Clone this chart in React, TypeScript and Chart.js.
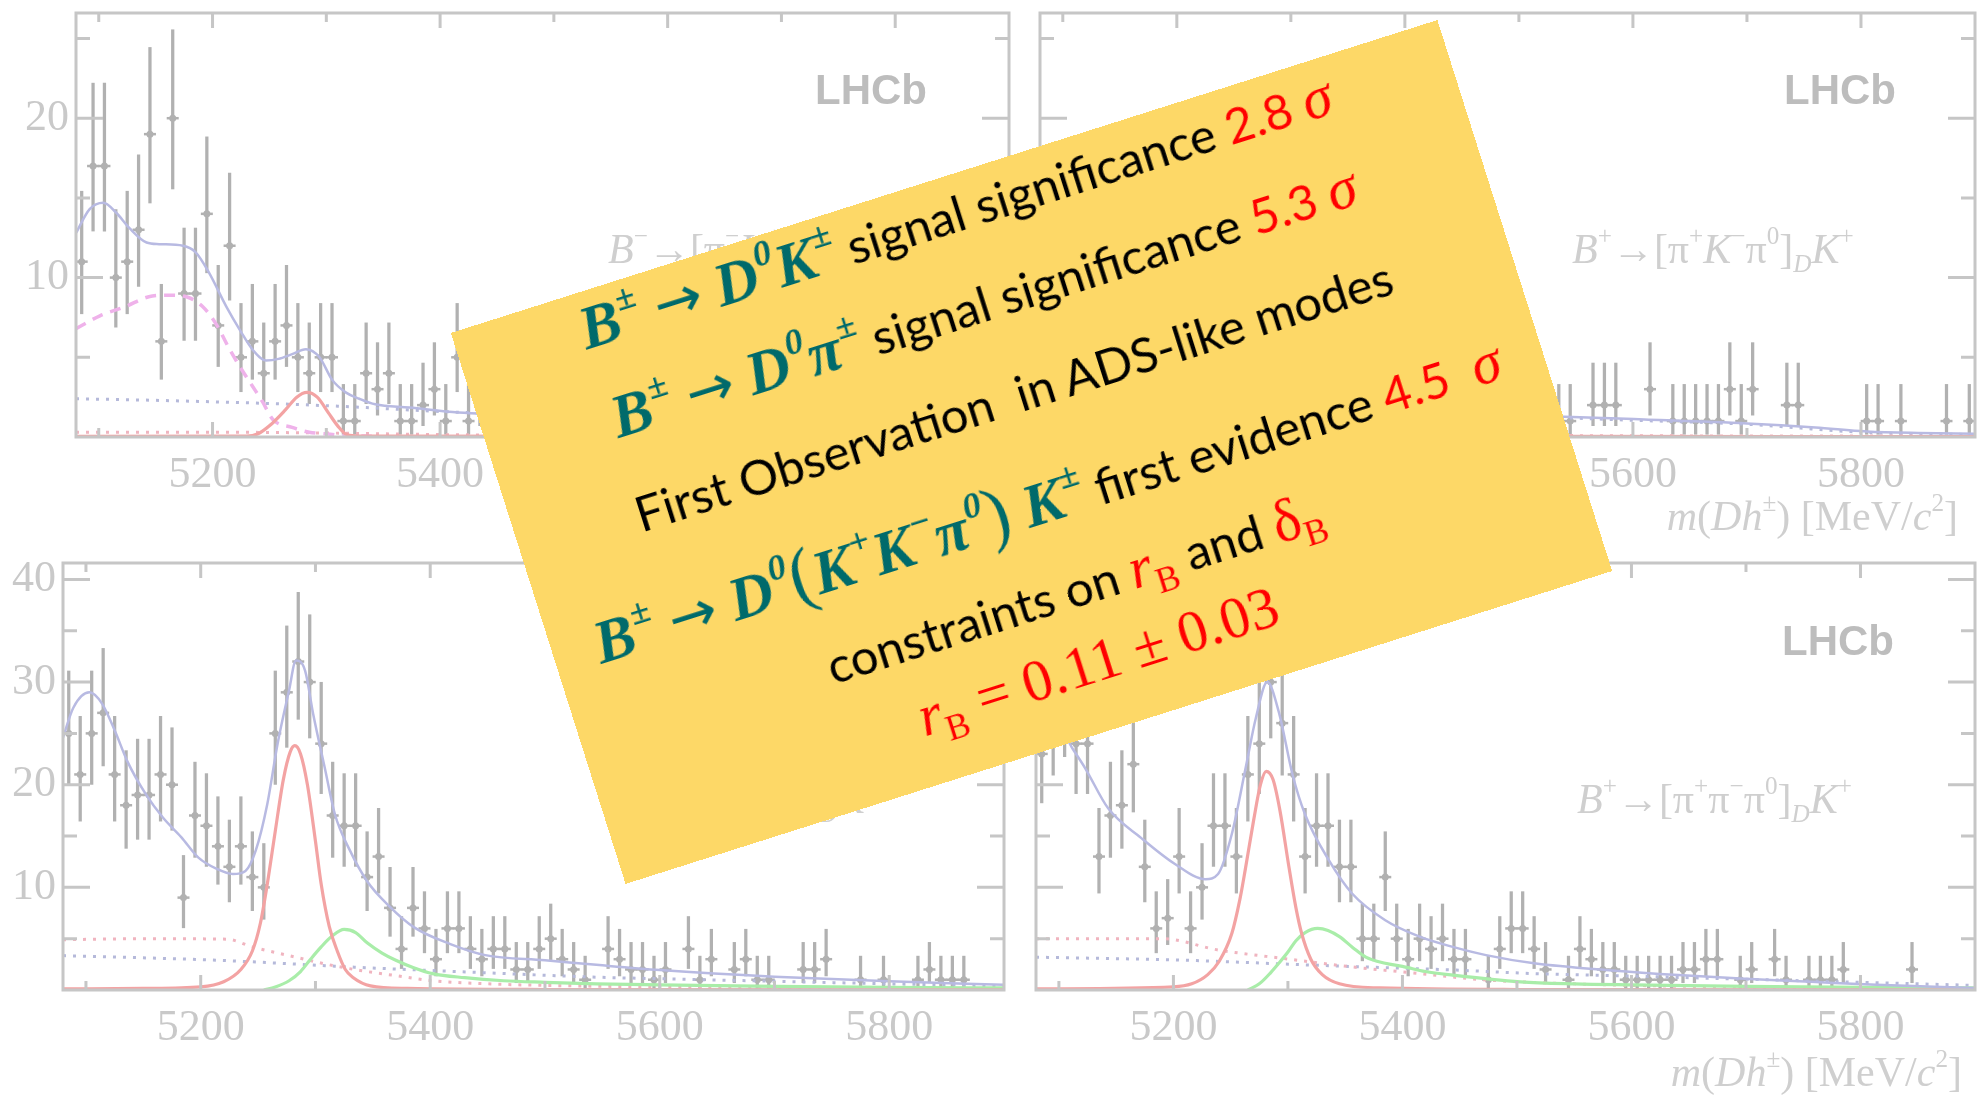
import React, { useEffect, useRef } from 'react';
import { Chart, registerables } from 'chart.js';

Chart.register(...registerables);

// ---------------- data ----------------
const BIN_START = 5085;
const BIN_STEP = 10;
const BIN_CENTRES = Array.from({ length: 82 }, (_, i) => BIN_START + BIN_STEP * i);

const X_MIN = 5080;
const X_MAX = 5900;
const X_TICK_LABELS = [5200, 5400, 5600, 5800];
const X_MINOR_TICKS = [5100, 5300, 5500, 5700];
const Y_TOP_LABELS = [10, 20];
const Y_TOP_MINOR = [5, 15, 25];
const Y_BOTTOM_LABELS = [10, 20, 30, 40];
const Y_BOTTOM_MINOR = [5, 15, 25, 35];

// Poisson (Garwood) error half-lengths, indexed by bin count
const ERR_DOWN = [0, 0.83, 1.29, 1.63, 1.91, 2.16, 2.38, 2.58, 2.77, 2.94, 3.11, 3.27, 3.42, 3.56, 3.70, 3.83, 3.96, 4.08, 4.20, 4.32, 4.44, 4.55, 4.66, 4.77, 4.87, 4.97, 5.07, 5.17, 5.27, 5.36, 5.45, 5.54, 5.63, 5.72, 5.81, 5.90];
const ERR_UP = [1.84, 2.30, 2.64, 2.92, 3.16, 3.38, 3.58, 3.77, 3.95, 4.11, 4.27, 4.42, 4.56, 4.70, 4.83, 4.96, 5.08, 5.20, 5.32, 5.44, 5.55, 5.66, 5.77, 5.87, 5.98, 6.08, 6.18, 6.28, 6.38, 6.47, 6.56, 6.65, 6.74, 6.83, 6.92, 7.01];

// counts per 10 MeV bin, 5085 ... 5895
const TL_COUNTS = [
  11, 17, 17, 10, 11, 13, 19, 6, 20, 9,
  9, 14, 7, 12, 5, 6, 4, 6, 7, 5,
  4, 5, 5, 1, 1, 4, 3, 4, 1, 1,
  2, 3, 1, 5, 1, 2, 0, 1, 3, 1,
  0, 2, 1, 1, 0, 2, 1, 0, 1, 1,
  0, 2, 1, 0, 1, 0, 1, 2, 0, 1,
  0, 1, 0, 1, 0, 1, 0, 1, 0, 0,
  1, 0, 1, 0, 0, 1, 0, 1, 0, 0,
  1, 0,
];
const TR_COUNTS = [
  8, 11, 9, 12, 7, 10, 9, 11, 8, 9,
  6, 8, 5, 6, 4, 3, 4, 2, 3, 4,
  3, 2, 3, 1, 2, 2, 1, 2, 1, 2,
  1, 0, 2, 1, 1, 2, 0, 1, 2, 1,
  0, 1, 1, 0, 1, 1, 1, 0, 2, 2,
  2, 0, 0, 3, 0, 1, 1, 1, 1, 1,
  3, 1, 3, 0, 0, 2, 2, 0, 0, 0,
  0, 0, 1, 1, 0, 1, 0, 0, 0, 1,
  0, 1,
];
const BL_COUNTS = [
  25, 21, 25, 27, 21, 18, 19, 19, 21, 20,
  9, 17, 16, 14, 12, 14, 11, 10, 25, 29,
  32, 30, 24, 17, 16, 16, 11, 13, 8, 4,
  8, 6, 3, 6, 6, 4, 3, 4, 4, 2,
  2, 4, 5, 3, 2, 1, 0, 4, 3, 2,
  2, 1, 2, 0, 4, 1, 3, 0, 2, 3,
  1, 1, 0, 0, 2, 2, 3, 0, 0, 1,
  0, 1, 0, 0, 1, 2, 1, 1, 1, 0,
  0, 0,
];
const BR_COUNTS = [
  23, 26, 28, 24, 24, 13, 17, 18, 22, 12,
  6, 7, 13, 6, 10, 16, 16, 13, 21, 24,
  30, 26, 21, 13, 16, 16, 12, 12, 5, 5,
  11, 5, 3, 5, 4, 5, 3, 3, 0, 1,
  4, 6, 6, 4, 2, 0, 1, 4, 3, 2,
  2, 1, 1, 1, 1, 1, 2, 2, 3, 3,
  0, 1, 2, 0, 3, 1, 0, 1, 1, 1,
  2, 0, 0, 0, 0, 0, 2, 0, 0, 0,
  0, 0,
];

// fit components: [mass, yield]
const TL_TOTAL = [[5080, 12.8], [5092, 14.3], [5104, 14.7], [5115, 14.1], [5127, 13.1], [5142, 12.2], [5153, 12.1], [5174, 12.0], [5185, 11.6], [5197, 10.3], [5212, 8.2], [5225, 6.6], [5235, 5.5], [5247, 4.8], [5258, 4.9], [5270, 5.2], [5282, 5.5], [5294, 5.0], [5305, 3.6], [5317, 2.8], [5329, 2.4], [5343, 2.05], [5373, 1.85], [5416, 1.53], [5500, 1.35], [5600, 1.15], [5700, 0.95], [5800, 0.75], [5900, 0.55]];
const TL_SIGNAL = [[5080, 0.04], [5230, 0.05], [5240, 0.2], [5250, 0.7], [5264, 1.7], [5274, 2.5], [5283, 2.8], [5292, 2.5], [5302, 1.5], [5310, 0.7], [5318, 0.15], [5330, 0.05], [5900, 0.02]];
const TL_DSTAR = [[5080, 6.8], [5101, 7.6], [5124, 8.2], [5144, 8.8], [5162, 8.9], [5177, 8.8], [5191, 8.2], [5203, 7.1], [5215, 5.5], [5225, 4.3], [5235, 3.2], [5244, 2.2], [5253, 1.1], [5270, 0.6], [5285, 0.3], [5299, 0.2], [5314, 0.1], [5340, 0.05]];
const TL_PINKDOT = [[5080, 0.3], [5200, 0.3], [5300, 0.25], [5400, 0.15], [5500, 0.1], [5900, 0.05]];
const TL_COMB = [[5080, 2.4], [5150, 2.3], [5250, 2.1], [5320, 1.9], [5400, 1.6], [5500, 1.35], [5600, 1.15], [5700, 0.9], [5800, 0.7], [5900, 0.5]];

const TR_TOTAL = [[5080, 9.5], [5095, 10.5], [5110, 10.3], [5130, 9.5], [5160, 8.8], [5185, 8.2], [5200, 7.2], [5215, 5.6], [5230, 4.2], [5245, 3.4], [5260, 3.2], [5275, 3.5], [5285, 3.7], [5295, 3.4], [5310, 2.6], [5330, 2.0], [5360, 1.7], [5400, 1.55], [5450, 1.42], [5500, 1.33], [5540, 1.27], [5610, 1.1], [5700, 0.85], [5760, 0.6], [5805, 0.35], [5850, 0.25], [5900, 0.2]];
const TR_SIGNAL = [[5080, 0.03], [5230, 0.05], [5250, 0.4], [5265, 1.0], [5275, 1.5], [5283, 1.7], [5292, 1.5], [5302, 0.9], [5315, 0.3], [5330, 0.05], [5900, 0.02]];
const TR_DSTAR = [[5080, 5.0], [5120, 5.8], [5160, 6.4], [5185, 6.2], [5205, 5.0], [5225, 3.2], [5245, 1.6], [5265, 0.6], [5290, 0.2], [5320, 0.05]];
const TR_PINKDOT = [[5080, 0.25], [5300, 0.2], [5500, 0.1], [5900, 0.05]];
const TR_COMB = [[5080, 2.0], [5200, 1.9], [5300, 1.7], [5400, 1.5], [5500, 1.3], [5600, 1.05], [5700, 0.8], [5800, 0.3], [5900, 0.15]];

const BL_TOTAL = [[5080, 24.6], [5089, 27.5], [5103, 29.0], [5114, 27.9], [5125, 25.3], [5136, 22.3], [5152, 19.1], [5167, 16.8], [5183, 14.9], [5198, 12.9], [5214, 11.8], [5228, 11.3], [5239, 11.6], [5248, 13.6], [5258, 18.1], [5267, 24.0], [5277, 29.2], [5283, 32.1], [5291, 31.1], [5298, 26.9], [5308, 21.7], [5317, 17.1], [5330, 13.6], [5345, 10.6], [5364, 8.2], [5386, 6.1], [5417, 4.5], [5448, 3.4], [5500, 2.9], [5550, 2.4], [5600, 1.95], [5700, 1.3], [5800, 0.85], [5900, 0.5]];
const BL_SIGNAL = [[5080, 0.1], [5150, 0.15], [5200, 0.3], [5220, 0.8], [5235, 2.0], [5245, 3.8], [5252, 6.5], [5258, 10.3], [5265, 15.5], [5272, 20.5], [5278, 23.2], [5282, 23.8], [5287, 23.0], [5293, 20.0], [5300, 14.5], [5305, 10.3], [5312, 6.2], [5319, 3.8], [5326, 2.0], [5333, 1.2], [5348, 0.4], [5380, 0.15], [5500, 0.05], [5900, 0.02]];
const BL_GREEN = [[5255, 0], [5265, 0.3], [5277, 0.9], [5287, 1.8], [5295, 2.9], [5305, 4.2], [5315, 5.3], [5325, 5.9], [5335, 5.6], [5345, 4.6], [5358, 3.6], [5370, 2.9], [5385, 2.2], [5402, 1.6], [5430, 1.2], [5464, 0.9], [5500, 0.75], [5545, 0.6], [5600, 0.5], [5700, 0.35], [5800, 0.25], [5900, 0.2]];
const BL_PINKDOT = [[5080, 4.9], [5150, 5.0], [5223, 4.95], [5245, 4.2], [5277, 3.35], [5308, 2.55], [5339, 1.9], [5370, 1.4], [5402, 0.9], [5450, 0.6], [5500, 0.45], [5600, 0.3], [5700, 0.2], [5900, 0.1]];
const BL_COMB = [[5080, 3.35], [5214, 2.9], [5339, 2.2], [5433, 1.75], [5545, 1.25], [5600, 1.1], [5700, 0.85], [5800, 0.6], [5900, 0.4]];

const BR_TOTAL = [[5080, 23.0], [5090, 25.5], [5100, 25.5], [5112, 23.5], [5123, 21.6], [5143, 17.7], [5172, 14.8], [5201, 12.3], [5228, 10.8], [5239, 11.3], [5251, 15.2], [5263, 21.6], [5272, 26.5], [5282, 30.0], [5292, 27.1], [5304, 21.0], [5315, 17.1], [5336, 12.6], [5356, 9.4], [5385, 6.8], [5415, 5.2], [5444, 4.2], [5473, 3.4], [5515, 2.6], [5583, 1.9], [5641, 1.45], [5699, 1.1], [5757, 0.8], [5814, 0.5], [5900, 0.2]];
const BR_SIGNAL = [[5080, 0.1], [5200, 0.3], [5216, 0.6], [5230, 1.5], [5240, 2.8], [5251, 5.5], [5258, 8.8], [5263, 11.9], [5270, 16.5], [5276, 20.0], [5281, 21.3], [5287, 20.5], [5293, 17.5], [5301, 11.9], [5307, 8.0], [5312, 5.5], [5320, 3.0], [5330, 1.5], [5345, 0.6], [5380, 0.2], [5500, 0.05], [5900, 0.02]];
const BR_GREEN = [[5265, 0], [5275, 0.6], [5285, 1.7], [5292, 2.6], [5300, 3.7], [5307, 4.8], [5315, 5.6], [5326, 6.0], [5335, 5.8], [5345, 5.2], [5357, 4.1], [5368, 3.2], [5385, 2.6], [5400, 2.3], [5420, 1.8], [5444, 1.45], [5503, 0.8], [5550, 0.6], [5600, 0.5], [5700, 0.35], [5800, 0.25], [5900, 0.2]];
const BR_PINKDOT = [[5080, 5.0], [5190, 5.0], [5239, 3.9], [5298, 3.05], [5356, 2.25], [5415, 1.6], [5470, 1.0], [5550, 0.6], [5650, 0.35], [5900, 0.1]];
const BR_COMB = [[5080, 3.2], [5210, 2.9], [5327, 2.4], [5444, 1.95], [5515, 1.6], [5600, 1.35], [5700, 1.05], [5800, 0.75], [5900, 0.45]];

// ---------------- styles ----------------
const FRAME = '#c6c6c6';
const DATA_GREY = '#b1b1b1';
const LABEL_GREY = '#c9c9c9';
const TEXT_GREY = '#cfcfcf';
const TEAL = '#006a6b';
const RED = '#ff0000';
const YELLOW = '#fdd867';

const STY = {
  total: { color: '#b8bae2', width: 2.5 },
  signal: { color: '#f3a3a3', width: 3.2 },
  green: { color: '#a9eda9', width: 3.2 },
  dstar: { color: '#efb2ea', width: 3.5, dash: [11, 8] },
  pinkDot: { color: '#f0b4bf', width: 3, dash: [3, 7] },
  combDot: { color: '#b5b9da', width: 3, dash: [3, 7] },
};

const PAD_L = 76;
const PAD_T = 13;
const PAD_R = 12;
const X_AXIS_H = 110;

type Curve = { pts: number[][]; color: string; width: number; dash?: number[] };
type PanelCfg = {
  left: number; top: number; right: number; bottom: number;
  yMax: number; yLabels: number[]; yMinor: number[]; showY: boolean;
  counts: number[]; curves: Curve[];
};

const rootFrame = {
  id: 'rootFrame',
  afterDatasetsDraw(chart: any, _args: any, opts: any) {
    const { ctx, chartArea: a, scales } = chart;
    const x = scales.x;
    const y = scales.y;
    ctx.save();
    ctx.strokeStyle = FRAME;
    ctx.lineWidth = 3;
    ctx.beginPath();
    const xt = (vals: number[], len: number) => {
      vals.forEach((v) => {
        const p = x.getPixelForValue(v);
        ctx.moveTo(p, a.bottom); ctx.lineTo(p, a.bottom - len);
        ctx.moveTo(p, a.top); ctx.lineTo(p, a.top + len);
      });
    };
    const yt = (vals: number[], len: number) => {
      vals.forEach((v) => {
        const p = y.getPixelForValue(v);
        ctx.moveTo(a.left, p); ctx.lineTo(a.left + len, p);
        ctx.moveTo(a.right, p); ctx.lineTo(a.right - len, p);
      });
    };
    xt(X_TICK_LABELS, 15);
    xt(X_MINOR_TICKS, 9);
    yt(opts.yMajor, 27);
    yt(opts.yMinor, 14);
    ctx.stroke();
    ctx.strokeRect(a.left, a.top, a.right - a.left, a.bottom - a.top);
    ctx.restore();
  },
};

function buildConfig(cfg: PanelCfg): any {
  const pts = BIN_CENTRES.map((x, i) => ({ x, n: cfg.counts[i] })).filter((p) => p.n > 0);
  const curveSets = cfg.curves.map((c) => ({
    type: 'line',
    data: c.pts.map(([x, y]) => ({ x, y })),
    borderColor: c.color,
    borderWidth: c.width,
    borderDash: c.dash || [],
    pointRadius: 0,
    fill: false,
    cubicInterpolationMode: 'monotone',
  }));
  return {
    type: 'scatter',
    data: {
      datasets: [
        ...curveSets,
        {
          type: 'scatter',
          data: pts.map((p) => ({ x: p.x, y: p.n })),
          pointStyle: 'circle',
          pointRadius: 3.5,
          backgroundColor: DATA_GREY,
          borderWidth: 0,
        },
        {
          type: 'scatter',
          data: pts.map((p) => ({ x: p.x, y: p.n })),
          pointStyle: 'line',
          pointRadius: 6,
          borderColor: DATA_GREY,
          borderWidth: 2.5,
        },
        {
          type: 'bar',
          data: pts.map((p) => ({ x: p.x, y: [p.n - ERR_DOWN[p.n], p.n + ERR_UP[p.n]] })),
          backgroundColor: DATA_GREY,
          barThickness: 2.6,
          borderWidth: 0,
        },
      ],
    },
    options: {
      responsive: false,
      animation: false,
      events: [],
      layout: { padding: { left: 0, top: PAD_T, right: PAD_R, bottom: 0 } },
      plugins: {
        legend: { display: false },
        tooltip: { enabled: false },
        rootFrame: { yMajor: cfg.yLabels, yMinor: cfg.yMinor },
      },
      scales: {
        x: {
          type: 'linear',
          min: X_MIN,
          max: X_MAX,
          offset: false,
          grid: { display: false, drawTicks: false, offset: false },
          border: { display: false },
          afterBuildTicks: (s: any) => { s.ticks = X_TICK_LABELS.map((v) => ({ value: v })); },
          afterFit: (s: any) => { s.height = X_AXIS_H; s.paddingLeft = 0; s.paddingRight = 0; },
          ticks: {
            color: LABEL_GREY,
            font: { family: '"Liberation Serif", "Times New Roman", serif', size: 44 },
            padding: 12,
            maxRotation: 0,
            autoSkip: false,
            callback: (v: any) => String(v),
          },
        },
        y: {
          type: 'linear',
          min: 0,
          max: cfg.yMax,
          grid: { display: false, drawTicks: false },
          border: { display: false },
          afterBuildTicks: (s: any) => { s.ticks = cfg.yLabels.map((v) => ({ value: v })); },
          afterFit: (s: any) => { s.width = PAD_L; s.paddingTop = 0; s.paddingBottom = 0; },
          ticks: {
            display: cfg.showY,
            color: LABEL_GREY,
            font: { family: '"Liberation Serif", "Times New Roman", serif', size: 44 },
            padding: 7,
            callback: (v: any) => String(v),
          },
        },
      },
    },
    plugins: [rootFrame],
  };
}

function Panel({ cfg }: { cfg: PanelCfg }) {
  const ref = useRef<HTMLCanvasElement>(null);
  const w = cfg.right - cfg.left + PAD_L + PAD_R;
  const h = cfg.bottom - cfg.top + PAD_T + X_AXIS_H;
  useEffect(() => {
    const chart = new Chart(ref.current as HTMLCanvasElement, buildConfig(cfg));
    return () => chart.destroy();
  }, []);
  return (
    <canvas
      ref={ref}
      width={w}
      height={h}
      style={{ position: 'absolute', left: cfg.left - PAD_L, top: cfg.top - PAD_T, width: w, height: h }}
    />
  );
}

const curvesOf = (total: number[][], signal: number[][], green: number[][] | null, dstar: number[][] | null, pink: number[][], comb: number[][]): Curve[] => {
  const list: Curve[] = [
    { pts: total, ...STY.total },
    { pts: signal, ...STY.signal },
  ];
  if (green) list.push({ pts: green, ...STY.green });
  if (dstar) list.push({ pts: dstar, ...STY.dstar });
  list.push({ pts: pink, ...STY.pinkDot });
  list.push({ pts: comb, ...STY.combDot });
  return list;
};

const PANELS: PanelCfg[] = [
  { left: 76, top: 13, right: 1009, bottom: 437, yMax: 26.6, yLabels: Y_TOP_LABELS, yMinor: Y_TOP_MINOR, showY: true, counts: TL_COUNTS, curves: curvesOf(TL_TOTAL, TL_SIGNAL, null, TL_DSTAR, TL_PINKDOT, TL_COMB) },
  { left: 1040, top: 13, right: 1975, bottom: 437, yMax: 26.6, yLabels: Y_TOP_LABELS, yMinor: Y_TOP_MINOR, showY: false, counts: TR_COUNTS, curves: curvesOf(TR_TOTAL, TR_SIGNAL, null, TR_DSTAR, TR_PINKDOT, TR_COMB) },
  { left: 63, top: 563, right: 1004, bottom: 990, yMax: 41.6, yLabels: Y_BOTTOM_LABELS, yMinor: Y_BOTTOM_MINOR, showY: true, counts: BL_COUNTS, curves: curvesOf(BL_TOTAL, BL_SIGNAL, BL_GREEN, null, BL_PINKDOT, BL_COMB) },
  { left: 1036, top: 563, right: 1975, bottom: 990, yMax: 41.6, yLabels: Y_BOTTOM_LABELS, yMinor: Y_BOTTOM_MINOR, showY: false, counts: BR_COUNTS, curves: curvesOf(BR_TOTAL, BR_SIGNAL, BR_GREEN, null, BR_PINKDOT, BR_COMB) },
];

// ---------------- text helpers ----------------
const Sup = ({ children, s = 0.6, t = -0.75, ml = 0.04 }: any) => (
  <span style={{ fontSize: `${s}em`, position: 'relative', top: `${t}em`, marginLeft: `${ml}em` }}>{children}</span>
);
const Sub = ({ children, s = 0.6, t = 0.35 }: any) => (
  <span style={{ fontSize: `${s}em`, position: 'relative', top: `${t}em` }}>{children}</span>
);

const SERIF = '"Liberation Serif", "Times New Roman", serif';
const SANS = 'Lato, "Open Sans", "Noto Sans", sans-serif';

function At({ x, baseline, size, font = SERIF, color = TEXT_GREY, weight = 400, right, children }: any) {
  const style: any = {
    position: 'absolute',
    top: baseline - 0.84 * size,
    fontFamily: font,
    fontSize: size,
    lineHeight: 1,
    color,
    fontWeight: weight,
    whiteSpace: 'pre',
  };
  if (right !== undefined) style.right = right; else style.left = x;
  return <div style={style}>{children}</div>;
}

const I = ({ children }: any) => <i>{children}</i>;

function DecayLabel({ x, baseline, charge, mid }: any) {
  return (
    <At x={x} baseline={baseline} size={42}>
      <I>B</I><Sup ml={0}>{charge}</Sup>→[π<Sup ml={0}>{charge}</Sup>{mid}π<Sup ml={0}>0</Sup>]<Sub><I>D</I></Sub><I>K</I><Sup ml={0}>{charge}</Sup>
    </At>
  );
}

function AxisTitle({ right, baseline }: any) {
  return (
    <At right={right} baseline={baseline} size={42}>
      <I>m</I>(<I>Dh</I><Sup ml={0}>±</Sup>) [MeV/<I>c</I><Sup ml={0}>2</Sup>]
    </At>
  );
}

const LHCb = ({ x, baseline }: any) => (
  <At x={x} baseline={baseline} size={42} font='"Liberation Sans", Arial, sans-serif' weight={700} color="#bdbdbd">LHCb</At>
);

// ---------------- yellow box ----------------
const BOX_W = 1035;
const BOX_H = 578;
const BOX_CX = 1031;
const BOX_CY = 452;
const BOX_ANGLE = -17.6;

const MATH_SIZE = 61;
const SANS_SIZE = 49;
const mathS: any = { fontFamily: SERIF, fontWeight: 700, fontStyle: 'italic', color: TEAL, fontSize: MATH_SIZE };
const sansS: any = { fontFamily: SANS, fontSize: SANS_SIZE, color: '#000' };
const redSerif: any = { fontFamily: SERIF, fontSize: 59, color: RED };
const arrowS: any = { fontFamily: '"DejaVu Sans", sans-serif', fontWeight: 400, fontStyle: 'normal', fontSize: '0.95em' };
const parenS: any = { fontWeight: 400, fontStyle: 'normal', fontSize: '1.2em' };

function BoxLine({ baseline, children, off = 52 }: any) {
  return (
    <div style={{ position: 'absolute', left: 0, width: BOX_W, top: baseline - off, textAlign: 'center', lineHeight: 1, whiteSpace: 'pre', fontFamily: SANS, fontSize: SANS_SIZE }}>
      {children}
    </div>
  );
}

function YellowBox() {
  return (
    <div
      style={{
        position: 'absolute',
        left: BOX_CX - BOX_W / 2,
        top: BOX_CY - BOX_H / 2,
        width: BOX_W,
        height: BOX_H,
        background: YELLOW,
        transform: `rotate(${BOX_ANGLE}deg)`,
        transformOrigin: 'center center',
      }}
    >
      <BoxLine baseline={58}>
        <span style={mathS}>B<Sup>±</Sup> <span style={arrowS}>→</span> D<Sup>0</Sup>K<Sup>±</Sup></span>
        <span style={sansS}> signal significance <span style={{ color: RED }}>2.8 </span></span>
        <span style={{ ...redSerif, fontStyle: 'italic' }}>σ</span>
      </BoxLine>
      <BoxLine baseline={152}>
        <span style={mathS}>B<Sup>±</Sup> <span style={arrowS}>→</span> D<Sup>0</Sup>π<Sup>±</Sup></span>
        <span style={sansS}> signal significance <span style={{ color: RED }}>5.3 </span></span>
        <span style={{ ...redSerif, fontStyle: 'italic' }}>σ</span>
      </BoxLine>
      <BoxLine baseline={248} off={43.5}>
        <span style={sansS}>First Observation  in ADS-like modes</span>
      </BoxLine>
      <BoxLine baseline={352}>
        <span style={mathS}>
          B<Sup>±</Sup> <span style={arrowS}>→</span> D<Sup>0</Sup><span style={parenS}>(</span>K<Sup>+</Sup>K<Sup>−</Sup>π<Sup>0</Sup><span style={parenS}>)</span> K<Sup>±</Sup>
        </span>
        <span style={sansS}> first evidence <span style={{ color: RED }}>4.5  </span></span>
        <span style={{ ...redSerif, fontStyle: 'italic' }}>σ</span>
      </BoxLine>
      <BoxLine baseline={451} off={49.5}>
        <span style={sansS}>constraints on </span>
        <span style={redSerif}><i>r</i><Sub>B</Sub></span>
        <span style={sansS}> and </span>
        <span style={redSerif}>δ<Sub>B</Sub></span>
      </BoxLine>
      <BoxLine baseline={528} off={49.5}>
        <span style={redSerif}><i>r</i><Sub>B</Sub> = 0.11 ± 0.03</span>
      </BoxLine>
    </div>
  );
}

export default function App() {
  return (
    <div style={{ position: 'absolute', left: 0, top: 0, width: 1985, height: 1095, overflow: 'hidden', background: '#fff' }}>
      {PANELS.map((p, i) => <Panel key={i} cfg={p} />)}
      <LHCb x={815} baseline={104} />
      <LHCb x={1784} baseline={104} />
      <LHCb x={802} baseline={655} />
      <LHCb x={1782} baseline={655} />
      <DecayLabel x={608} baseline={263} charge="−" mid={<><I>K</I><Sup ml={0}>+</Sup></>} />
      <DecayLabel x={1572} baseline={263} charge="+" mid={<><I>K</I><Sup ml={0}>−</Sup></>} />
      <DecayLabel x={604} baseline={813} charge="−" mid={<>π<Sup ml={0}>+</Sup></>} />
      <DecayLabel x={1577} baseline={813} charge="+" mid={<>π<Sup ml={0}>−</Sup></>} />
      <AxisTitle right={1985 - 1958} baseline={530} />
      <AxisTitle right={1985 - 1962} baseline={1086} />
      <YellowBox />
    </div>
  );
}
